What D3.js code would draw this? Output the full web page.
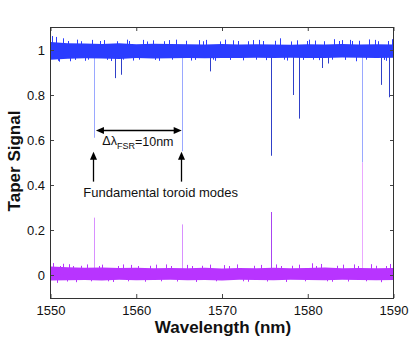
<!DOCTYPE html>
<html>
<head>
<meta charset="utf-8">
<script src="https://cdn.jsdelivr.net/npm/d3@7"></script>
<style>
  html, body { margin: 0; padding: 0; background: #fff; }
  svg { display: block; font-family: "Liberation Sans", Arial, Helvetica, sans-serif; }
</style>
</head>
<body>
<div id="chart"></div>
<script>
const width = 414, height = 340;
const margins = { top: 27, right: 20, bottom: 42, left: 50 };

// noise band envelope, sampled every 2 nm
const bandNm = [1550,1552,1554,1556,1558,1560,1562,1564,1566,1568,1570,1572,1574,1576,1578,1580,1582,1584,1586,1588,1590];
const blueHi = [1.036,1.030,1.029,1.027,1.030,1.026,1.028,1.027,1.026,1.025,1.027,1.024,1.026,1.025,1.023,1.026,1.024,1.027,1.025,1.026,1.025];
const blueLo = [0.957,0.961,0.963,0.962,0.960,0.964,0.962,0.963,0.964,0.963,0.965,0.964,0.966,0.964,0.966,0.965,0.964,0.967,0.966,0.965,0.966];
const purpleHi = [0.038,0.034,0.032,0.033,0.031,0.032,0.030,0.031,0.030,0.032,0.029,0.031,0.030,0.032,0.030,0.031,0.033,0.030,0.031,0.030,0.031];
const purpleLo = [-0.024,-0.023,-0.022,-0.024,-0.021,-0.023,-0.022,-0.021,-0.023,-0.022,-0.024,-0.021,-0.022,-0.023,-0.021,-0.022,-0.023,-0.021,-0.022,-0.023,-0.022];

// small noise spikes sticking out of the bands (tip values)
const blueGrassNm  = [1550.2,1550.6,1550.9,1551.0,1551.5,1552.0,1552.3,1552.8,1553.1,1553.6,1554.0,1554.4,1554.8,1555.8,1556.2,1556.6,1557.0,1557.8,1558.5,1558.9,1559.2,1559.6,1560.3,1560.8,1561.3,1561.9,1562.2,1562.7,1563.2,1563.8,1564.2,1564.6,1565.8,1566.4,1566.9,1567.3,1567.8,1568.1,1568.9,1569.2,1569.8,1570.4,1570.9,1571.3,1571.9,1572.5,1573.0,1573.6,1574.0,1574.3,1574.8,1575.1,1576.2,1576.8,1577.2,1577.6,1578.0,1578.7,1579.4,1579.9,1580.2,1580.6,1580.9,1581.3,1581.9,1582.8,1583.1,1583.6,1584.0,1584.4,1584.9,1585.2,1585.6,1586.0,1586.8,1587.2,1587.8,1588.2,1588.9,1589.1,1589.4,1589.8];
const blueGrassTip = [1.062,1.058,0.952,0.948,1.052,1.040,0.950,0.956,1.046,1.039,0.952,0.957,1.045,1.040,1.044,0.956,0.951,1.039,0.957,1.046,1.040,0.953,0.957,1.045,1.038,1.043,0.956,0.952,1.039,1.044,0.957,1.046,1.041,0.953,0.956,1.044,1.039,1.045,0.957,0.952,1.038,1.046,0.956,1.043,1.040,0.954,1.039,1.044,0.957,1.045,1.040,0.955,1.041,1.052,0.957,0.953,1.038,1.043,0.956,1.040,1.046,0.957,1.042,0.955,1.039,0.957,1.048,1.040,1.044,0.956,1.045,1.040,0.950,1.041,0.957,1.047,1.045,1.039,0.956,0.952,1.040,1.048];
const purpleGrassNm  = [1550.3,1550.8,1551.1,1551.4,1551.9,1552.2,1552.6,1553.0,1553.5,1554.2,1554.7,1555.6,1556.0,1556.7,1557.3,1557.9,1558.5,1559.0,1559.4,1560.2,1561.0,1561.6,1562.3,1562.9,1563.5,1564.1,1564.8,1565.9,1566.5,1567.0,1567.7,1568.6,1569.3,1570.2,1570.8,1571.8,1572.4,1573.0,1573.7,1574.6,1575.2,1576.3,1576.9,1577.5,1578.2,1579.0,1579.7,1580.5,1581.0,1581.6,1582.2,1582.8,1583.4,1584.1,1584.7,1585.4,1585.9,1586.8,1587.4,1588.0,1588.5,1589.1,1589.6];
const purpleGrassTip = [0.053,-0.035,0.040,0.050,-0.029,0.048,0.040,-0.032,0.041,0.047,-0.028,0.040,0.046,-0.028,-0.031,0.040,0.047,-0.028,0.045,0.040,-0.030,0.041,0.046,-0.028,0.047,0.040,-0.029,0.045,0.040,-0.031,0.041,0.046,-0.028,0.044,0.040,0.047,-0.028,-0.030,0.041,0.045,-0.029,0.047,0.040,-0.031,0.041,0.046,-0.028,0.052,0.040,0.049,-0.028,-0.030,0.041,0.046,-0.029,0.047,0.040,-0.028,0.048,0.041,-0.032,0.040,0.049];

// resonance dips in the blue trace
const dipNm    = [1555.1,1557.5,1558.2,1565.3,1568.6,1575.7,1578.3,1579.0,1581.7,1582.4,1586.3,1588.6,1589.5];
const dipValue = [0.61,0.875,0.89,0.55,0.905,0.53,0.80,0.695,0.92,0.94,0.50,0.845,0.79];
const dipLight = [true,false,false,true,false,false,false,false,false,false,true,false,false];

// resonance peaks in the purple trace
const peakNm    = [1555.1,1565.3,1575.7,1586.3];
const peakValue = [0.255,0.225,0.28,0.50];
const peakColor = ["#d890ff","#d890ff","#a844f0","#eaa8ff"];

const xTicks = [1550,1560,1570,1580,1590];
const yTicks = [0,0.2,0.4,0.6,0.8,1];

const blue = "#2a3cff", blueLight = "#9aa8ff", blueDark = "#3040c8", purple = "#b834ff";

const svg = d3.select("#chart")
    .append("svg")
    .attr("width", width)
    .attr("height", height);

const x = d3.scaleLinear()
    .domain([1550, 1590])
    .range([margins.left + 0.5, width - margins.right - 0.5]);

const y = d3.scaleLinear()
    .domain([-0.1, 1.1])
    .range([height - margins.bottom - 0.5, margins.top + 0.5]);

svg.append("clipPath").attr("id", "clip")
    .append("rect")
    .attr("x", margins.left).attr("y", margins.top)
    .attr("width", width - margins.left - margins.right)
    .attr("height", height - margins.top - margins.bottom);

const plot = svg.append("g").attr("clip-path", "url(#clip)");

const px = v => Math.round(x(v)) + 0.5;

// dips and peaks under the bands
plot.selectAll(".dip")
    .data(dipNm.map((d, i) => ({ nm: d, v: dipValue[i], light: dipLight[i] })))
    .join("line")
    .attr("x1", d => px(d.nm)).attr("x2", d => px(d.nm))
    .attr("y1", y(0.99)).attr("y2", d => y(d.v))
    .attr("stroke", d => d.light ? blueLight : blueDark)
    .attr("stroke-width", 1);

plot.selectAll(".peak")
    .data(peakNm.map((d, i) => ({ nm: d, v: peakValue[i], c: peakColor[i] })))
    .join("line")
    .attr("x1", d => px(d.nm)).attr("x2", d => px(d.nm))
    .attr("y1", y(0.005)).attr("y2", d => y(d.v))
    .attr("stroke", d => d.c)
    .attr("stroke-width", 1);

const band = (hi, lo) => d3.area()
    .x(d => x(d))
    .y0((d, i) => y(lo[i]))
    .y1((d, i) => y(hi[i]));

plot.append("path")
    .attr("d", band(blueHi, blueLo)(bandNm))
    .attr("fill", blue);

plot.append("path")
    .attr("d", band(purpleHi, purpleLo)(bandNm))
    .attr("fill", purple);

plot.selectAll(".bgrass")
    .data(blueGrassNm.map((d, i) => [d, blueGrassTip[i]]))
    .join("line")
    .attr("x1", d => px(d[0])).attr("x2", d => px(d[0]))
    .attr("y1", y(0.995)).attr("y2", d => y(d[1]))
    .attr("stroke", blue);

plot.selectAll(".pgrass")
    .data(purpleGrassNm.map((d, i) => [d, purpleGrassTip[i]]))
    .join("line")
    .attr("x1", d => px(d[0])).attr("x2", d => px(d[0]))
    .attr("y1", y(0.004)).attr("y2", d => y(d[1]))
    .attr("stroke", purple);

// axes: ticks pointing inward on all four sides
const axesGroup = svg.append("g").attr("class", "axes");
const x0 = margins.left, x1 = width - margins.right, y0 = margins.top, y1 = height - margins.bottom;

axesGroup.append("g")
    .attr("transform", `translate(0,${y1})`)
    .call(d3.axisBottom(x).tickValues(xTicks).tickSize(-4).tickPadding(8).tickFormat(d => d));
axesGroup.append("g")
    .attr("transform", `translate(0,${y0})`)
    .call(d3.axisTop(x).tickValues(xTicks).tickSize(-4).tickFormat(""));
axesGroup.append("g")
    .attr("transform", `translate(${x0},0)`)
    .call(d3.axisLeft(y).tickValues(yTicks).tickSize(-4).tickPadding(5).tickFormat(d => String(d)));
axesGroup.append("g")
    .attr("transform", `translate(${x1},0)`)
    .call(d3.axisRight(y).tickValues(yTicks).tickSize(-4).tickFormat(""));

axesGroup.selectAll(".domain").remove();
axesGroup.selectAll(".tick line").attr("stroke", "#444");
axesGroup.selectAll(".tick text")
    .attr("fill", "#111")
    .style("font-size", "13px")
    .style("font-family", "'Liberation Sans', Arial, sans-serif");

axesGroup.append("rect")
    .attr("x", x0 + 0.5).attr("y", y0 + 0.5)
    .attr("width", x1 - x0 - 1).attr("height", y1 - y0)
    .attr("fill", "none")
    .attr("stroke", "#333");

// axis titles
svg.append("text")
    .attr("x", 223).attr("y", 333)
    .attr("text-anchor", "middle")
    .style("font-size", "17px").style("font-weight", "bold")
    .attr("fill", "#111")
    .text("Wavelength (nm)");

svg.append("text")
    .attr("transform", "translate(20,161) rotate(-90)")
    .attr("text-anchor", "middle")
    .style("font-size", "17px").style("font-weight", "bold")
    .attr("fill", "#111")
    .text("Taper Signal");

// annotations
const ann = svg.append("g").attr("stroke", "#000").attr("fill", "#000");

const arrowHead = (tx, ty, dx, dy) => {
    const L = 8, W = 3.5;
    const bx = tx - dx * L, by = ty - dy * L;
    return `M${tx},${ty}L${bx - dy * W},${by + dx * W}L${bx + dy * W},${by - dx * W}Z`;
};

const ya = Math.round(y(0.644)) + 0.5;
const xa = x(1555.3), xb = x(1565.3);
ann.append("line").attr("x1", xa + 4).attr("x2", xb - 4).attr("y1", ya).attr("y2", ya).attr("stroke-width", 1.3);
ann.append("path").attr("d", arrowHead(xa, ya, -1, 0)).attr("stroke", "none");
ann.append("path").attr("d", arrowHead(xb, ya, 1, 0)).attr("stroke", "none");

[1555.0, 1565.2].forEach(nm => {
    const xx = Math.round(x(nm)) + 0.5;
    ann.append("line").attr("x1", xx).attr("x2", xx)
        .attr("y1", y(0.415)).attr("y2", y(0.548) + 4).attr("stroke-width", 1.3);
    ann.append("path").attr("d", arrowHead(xx, y(0.548), 0, -1)).attr("stroke", "none");
});

const fsr = svg.append("text")
    .attr("x", x(1560.2)).attr("y", y(0.578))
    .attr("text-anchor", "middle")
    .attr("fill", "#111")
    .style("font-size", "12.5px");
fsr.append("tspan").text("Δλ");
fsr.append("tspan").attr("dy", 4).style("font-size", "9px").text("FSR");
fsr.append("tspan").attr("dy", -3).text("=10nm");

svg.append("text")
    .attr("x", x(1562.85)).attr("y", y(0.347))
    .attr("text-anchor", "middle")
    .attr("fill", "#111")
    .style("font-size", "13px")
    .text("Fundamental toroid modes");
</script>
</body>
</html>
